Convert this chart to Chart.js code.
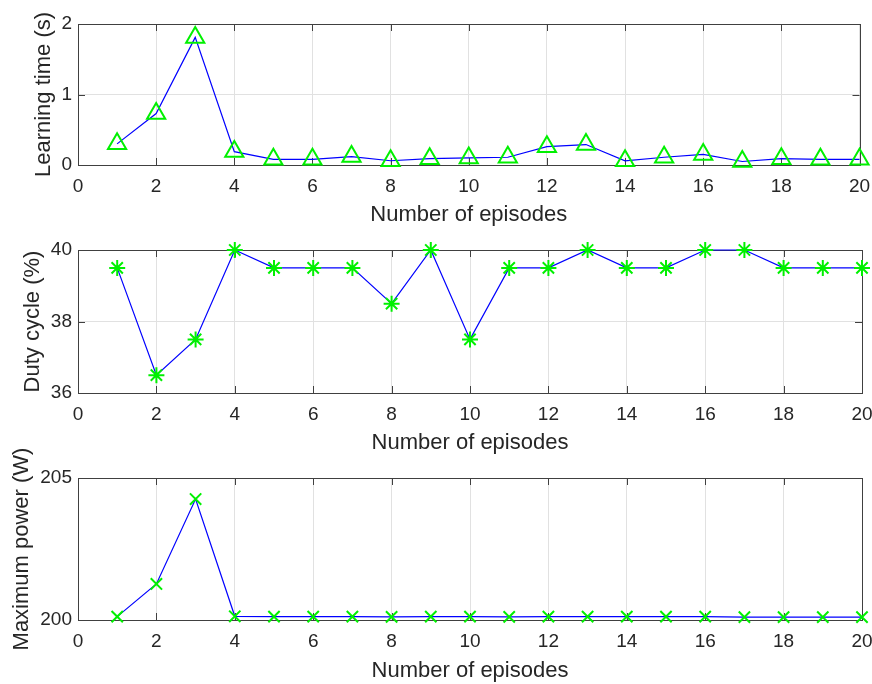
<!DOCTYPE html>
<html>
<head>
<meta charset="utf-8">
<script src="https://cdn.jsdelivr.net/npm/chart.js@4/dist/chart.umd.min.js"></script>
<style>
  body { margin: 0; background: #fff; }
  #wrap { position: relative; width: 872px; height: 684px; }
  canvas { position: absolute; left: 0; }
</style>
</head>
<body>
<div id="wrap">
  <canvas id="c1" width="872" height="228" style="top:0px"></canvas>
  <canvas id="c2" width="872" height="228" style="top:228px"></canvas>
  <canvas id="c3" width="872" height="264" style="top:420px"></canvas>
</div>
<script>
const episodes = [1, 2, 3, 4, 5, 6, 7, 8, 9, 10, 11, 12, 13, 14, 15, 16, 17, 18, 19, 20];
const learningTime = [0.30, 0.73, 1.81, 0.19, 0.08, 0.08, 0.12, 0.06, 0.09, 0.10,
                      0.11, 0.26, 0.29, 0.06, 0.11, 0.15, 0.05, 0.09, 0.08, 0.08];
const dutyCycle = [39.5, 36.5, 37.5, 40, 39.5, 39.5, 39.5, 38.5, 40, 37.5,
                   39.5, 39.5, 40, 39.5, 39.5, 40, 40, 39.5, 39.5, 39.5];
const maxPower = [200.12, 201.27, 204.26, 200.13, 200.12, 200.12, 200.12, 200.11, 200.12, 200.12,
                  200.11, 200.12, 200.12, 200.12, 200.12, 200.12, 200.10, 200.10, 200.10, 200.10];
const xLabel = 'Number of episodes';

Chart.defaults.font.family = "'Liberation Sans', Arial, sans-serif";
Chart.defaults.color = '#262626';

const axisColor = '#404040';
const gridColor = '#e1e1e1';

// MATLAB-ish box with inward ticks
const frame = {
  id: 'frame',
  beforeDatasetsDraw(chart) {
    const {ctx, chartArea: a, scales: {x, y}} = chart;
    ctx.save();
    ctx.strokeStyle = axisColor;
    ctx.lineWidth = 1;
    ctx.beginPath();
    x.ticks.forEach(t => {
      const px = Math.round(x.getPixelForValue(t.value)) + 0.5;
      ctx.moveTo(px, a.bottom); ctx.lineTo(px, a.bottom - 7);
      ctx.moveTo(px, a.top); ctx.lineTo(px, a.top + 7);
    });
    y.ticks.forEach(t => {
      const py = Math.round(y.getPixelForValue(t.value)) + 0.5;
      ctx.moveTo(a.left, py); ctx.lineTo(a.left + 7, py);
      ctx.moveTo(a.right, py); ctx.lineTo(a.right - 7, py);
    });
    ctx.stroke();
    ctx.strokeRect(Math.round(a.left) + 0.5, Math.round(a.top) + 0.5,
                   Math.round(a.right - a.left), Math.round(a.bottom - a.top));
    ctx.restore();
  }
};

function makePlot(id, values, yTitle, yMin, yMax, yStep, marker, radius, topPad, xHeight, titlePad) {
  new Chart(document.getElementById(id), {
    type: 'line',
    data: {
      datasets: [{
        data: episodes.map((e, i) => ({x: e, y: values[i]})),
        borderColor: '#0000ff',
        borderWidth: 1.2,
        tension: 0,
        pointStyle: marker,
        pointRadius: radius,
        pointHoverRadius: radius,
        pointBorderColor: '#00f000',
        pointBackgroundColor: 'rgba(0,0,0,0)',
        pointBorderWidth: 2,
        clip: false
      }]
    },
    options: {
      responsive: false,
      animation: false,
      events: [],
      layout: {padding: {top: topPad, right: 10, left: 0, bottom: 0}},
      plugins: {legend: {display: false}, tooltip: {enabled: false}},
      scales: {
        x: {
          type: 'linear',
          min: 0, max: 20,
          afterFit: s => { s.height = xHeight; s.paddingLeft = 0; s.paddingRight = 0; },
          ticks: {stepSize: 2, padding: 10, font: {size: 19}, maxRotation: 0},
          grid: {color: gridColor, drawTicks: false},
          border: {display: false},
          title: {display: true, text: xLabel, font: {size: 22}, padding: {top: 0, bottom: 0}}
        },
        y: {
          min: yMin, max: yMax,
          afterFit: s => { s.width = 78; },
          ticks: {stepSize: yStep, padding: 6, font: {size: 19}},
          grid: {color: gridColor, drawTicks: false},
          border: {display: false},
          title: {display: true, text: yTitle, font: {size: 22}, padding: {top: titlePad, bottom: 0}}
        }
      }
    },
    plugins: [frame]
  });
}

makePlot('c1', learningTime, 'Learning time (s)', 0, 2, 1, 'triangle', 10.5, 24, 63, 31);
makePlot('c2', dutyCycle, 'Duty cycle (%)', 36, 40, 2, 'star', 8, 22, 63, 20);
makePlot('c3', maxPower, 'Maximum power (W)', 200, 205, 5, 'crossRot', 8, 58, 64, 9);
</script>
</body>
</html>
